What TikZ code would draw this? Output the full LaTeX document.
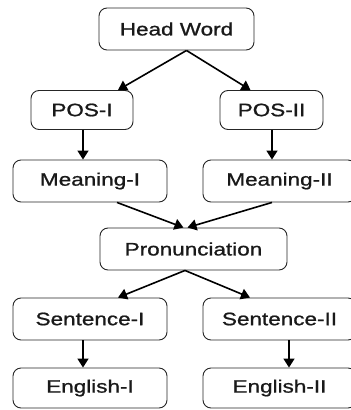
\documentclass[tikz,border=0pt]{standalone}
\usepackage{fontspec}
\setmainfont[FakeStretch=1.25,FakeBold=1]{Liberation Sans}
\usetikzlibrary{calc,arrows.meta}
\begin{document}
\begin{tikzpicture}[x=1pt,y=-1pt,
  box/.style={draw=black!85,line width=0.9pt,rounded corners=8pt,inner sep=0pt,
    font=\fontsize{18}{20}\selectfont,text=black!90},
  arr/.style={line width=1.6pt,-{Triangle[length=9pt,width=11pt]}}]
\useasboundingbox (0,0) rectangle (351,410);
\clip (0,0) rectangle (351,410);
\node[box,minimum width=155pt,minimum height=42pt] (hw) at (176.5,29) {Head Word};
\node[box,minimum width=102pt,minimum height=39pt] (p1) at (82,110) {POS-I};
\node[box,minimum width=103pt,minimum height=39pt] (p2) at (271.5,110) {POS-II};
\node[box,minimum width=154pt,minimum height=42pt] (m1) at (90,181) {Meaning-I};
\node[box,minimum width=153pt,minimum height=42pt] (m2) at (279.5,181) {Meaning-II};
\node[box,minimum width=187pt,minimum height=42pt] (pr) at (193.5,249) {Pronunciation};
\node[box,minimum width=154pt,minimum height=42pt] (s1) at (90,319) {Sentence-I};
\node[box,minimum width=153pt,minimum height=42pt] (s2) at (279.5,319) {Sentence-II};
\node[box,minimum width=154pt,minimum height=40pt] (e1) at (90,388) {English-I};
\node[box,minimum width=153pt,minimum height=40pt] (e2) at (279.5,388) {English-II};
\draw[arr] ($(hw.south)+(10,0)$) -- ($(p1.north)+(36,0)$);
\draw[arr] ($(hw.south)+(10,0)$) -- ($(p2.north)+(-21,0)$);
\draw[arr] ($(p1.south)+(1,0)$) -- ($(m1.north)+(-7,0)$);
\draw[arr] ($(p2.south)+(0.5,0)$) -- ($(m2.north)+(-7.5,0)$);
\draw[arr] ($(m1.south)+(27,0)$) -- ($(pr.north)+(-10,0)$);
\draw[arr] ($(m2.south)+(-7.5,0)$) -- ($(pr.north)+(-6,0)$);
\draw[arr] ($(pr.south)+(-8.5,0)$) -- ($(s1.north)+(28,0)$);
\draw[arr] ($(pr.south)+(-8.5,0)$) -- ($(s2.north)+(-29.5,0)$);
\draw[arr] ($(s1.south)+(-7,0)$) -- ($(e1.north)+(-7,0)$);
\draw[arr] ($(s2.south)+(9.5,0)$) -- ($(e2.north)+(9.5,0)$);
\end{tikzpicture}
\end{document}
